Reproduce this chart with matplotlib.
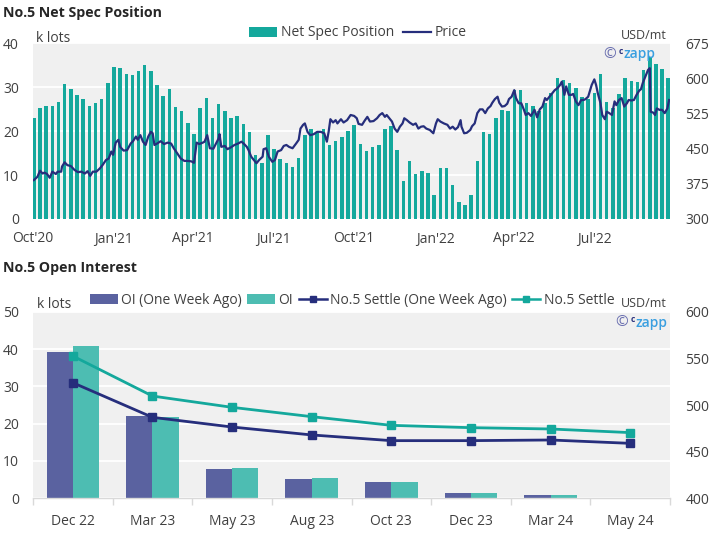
import matplotlib
matplotlib.use("Agg")
import matplotlib.pyplot as plt
import matplotlib.dates as mdates
from matplotlib.lines import Line2D
from matplotlib.patches import Patch
import numpy as np
import pandas as pd

plt.rcParams['font.family'] = ['Open Sans', 'DejaVu Sans']

# ---------------- DATA ----------------
# Net spec position (k lots), weekly
spec_start = "2020-10-02"
net_spec = [22.9, 25.2, 25.7, 25.7, 26.6, 30.7, 29.7, 28.2, 27.4, 25.7,
            26.3, 27.4, 31.0, 34.5, 34.4, 33.1, 32.7, 33.8, 35.1, 33.7,
            30.4, 28.1, 29.5, 25.6, 24.5, 21.9, 19.3, 25.3, 27.6, 23.1,
            26.1, 24.6, 22.9, 23.5, 21.7, 19.7, 14.6, 12.8, 19.1, 16.0,
            13.6, 12.7, 11.8, 13.8, 19.1, 20.5, 19.6, 20.4, 16.9, 17.8,
            18.7, 20.0, 21.4, 17.1, 15.5, 16.5, 16.9, 20.4, 21.2, 15.7,
            8.6, 13.1, 10.2, 10.9, 10.5, 5.5, 11.5, 11.5, 7.7, 3.9,
            3.2, 5.4, 13.1, 19.7, 19.3, 22.9, 24.8, 24.6, 29.3, 29.3,
            26.3, 25.8, 24.6, 26.4, 28.7, 32.1, 31.6, 30.9, 29.8, 27.7,
            27.4, 28.6, 33.0, 26.6, 25.2, 28.4, 32.2, 31.5, 31.3, 33.9,
            36.9, 35.3, 34.1, 32.0]

price_dates = [
    "2020-10-02", "2020-10-06", "2020-10-09", "2020-10-12", "2020-10-14", "2020-10-17",
    "2020-10-20", "2020-10-23", "2020-10-27", "2020-10-29", "2020-11-02", "2020-11-03",
    "2020-11-06", "2020-11-09", "2020-11-13", "2020-11-17", "2020-11-21", "2020-11-25",
    "2020-11-29", "2020-12-02", "2020-12-05", "2020-12-08", "2020-12-12", "2020-12-16",
    "2020-12-19", "2020-12-23", "2020-12-26", "2020-12-29", "2020-12-31", "2021-01-03",
    "2021-01-06", "2021-01-08", "2021-01-12", "2021-01-16", "2021-01-20", "2021-01-23",
    "2021-01-26", "2021-01-28", "2021-01-31", "2021-02-03", "2021-02-06", "2021-02-09",
    "2021-02-12", "2021-02-14", "2021-02-16", "2021-02-19", "2021-02-23", "2021-02-27",
    "2021-03-03", "2021-03-07", "2021-03-10", "2021-03-14", "2021-03-18", "2021-03-22",
    "2021-03-26", "2021-03-30", "2021-04-02", "2021-04-05", "2021-04-08", "2021-04-12",
    "2021-04-14", "2021-04-17", "2021-04-20", "2021-04-24", "2021-04-27", "2021-04-30",
    "2021-05-01", "2021-05-03", "2021-05-07", "2021-05-10", "2021-05-14", "2021-05-18",
    "2021-05-22", "2021-05-26", "2021-05-29", "2021-06-01", "2021-06-03", "2021-06-06",
    "2021-06-09", "2021-06-12", "2021-06-15", "2021-06-19", "2021-06-20", "2021-06-23",
    "2021-06-26", "2021-06-30", "2021-07-03", "2021-07-06", "2021-07-10", "2021-07-13",
    "2021-07-16", "2021-07-19", "2021-07-23", "2021-07-27", "2021-07-30", "2021-08-01",
    "2021-08-04", "2021-08-06", "2021-08-09", "2021-08-12", "2021-08-16", "2021-08-20",
    "2021-08-24", "2021-08-28", "2021-08-31", "2021-09-02", "2021-09-04", "2021-09-07",
    "2021-09-10", "2021-09-12", "2021-09-16", "2021-09-19", "2021-09-23", "2021-09-27",
    "2021-10-01", "2021-10-04", "2021-10-06", "2021-10-10", "2021-10-13", "2021-10-16",
    "2021-10-19", "2021-10-23", "2021-10-27", "2021-10-30", "2021-11-02", "2021-11-05",
    "2021-11-07", "2021-11-10", "2021-11-13", "2021-11-16", "2021-11-19", "2021-11-22",
    "2021-11-25", "2021-11-27", "2021-11-30", "2021-12-03", "2021-12-07", "2021-12-10",
    "2021-12-13", "2021-12-16", "2021-12-19", "2021-12-22", "2021-12-26", "2021-12-30",
    "2022-01-02", "2022-01-04", "2022-01-07", "2022-01-11", "2022-01-15", "2022-01-18",
    "2022-01-21", "2022-01-24", "2022-01-27", "2022-01-30", "2022-01-31", "2022-02-03",
    "2022-02-06", "2022-02-10", "2022-02-12", "2022-02-15", "2022-02-18", "2022-02-21",
    "2022-02-24", "2022-02-27", "2022-03-02", "2022-03-05", "2022-03-07", "2022-03-10",
    "2022-03-13", "2022-03-15", "2022-03-18", "2022-03-21", "2022-03-24", "2022-03-26",
    "2022-03-29", "2022-04-01", "2022-04-03", "2022-04-06", "2022-04-09", "2022-04-12",
    "2022-04-14", "2022-04-17", "2022-04-20", "2022-04-24", "2022-04-27", "2022-04-30",
    "2022-05-03", "2022-05-06", "2022-05-08", "2022-05-11", "2022-05-14", "2022-05-17",
    "2022-05-20", "2022-05-23", "2022-05-25", "2022-05-28", "2022-05-30", "2022-06-02",
    "2022-06-05", "2022-06-07", "2022-06-10", "2022-06-13", "2022-06-16", "2022-06-19",
    "2022-06-21", "2022-06-24", "2022-06-28", "2022-07-01", "2022-07-03", "2022-07-05",
    "2022-07-08", "2022-07-10", "2022-07-13", "2022-07-15", "2022-07-18", "2022-07-21",
    "2022-07-24", "2022-07-26", "2022-07-29", "2022-08-01", "2022-08-04", "2022-08-07",
    "2022-08-09", "2022-08-12", "2022-08-15", "2022-08-18", "2022-08-21", "2022-08-23",
    "2022-08-25", "2022-08-28", "2022-08-31", "2022-09-02", "2022-09-03", "2022-09-06",
    "2022-09-08", "2022-09-10", "2022-09-13", "2022-09-16", "2022-09-19", "2022-09-22",
    "2022-09-24"]
price = [
    383, 390, 403, 397, 399, 396, 388, 401, 396, 401, 401, 412,
    421, 415, 413, 405, 400, 401, 397, 402, 392, 401, 401, 408,
    415, 426, 429, 444, 437, 463, 469, 454, 446, 447, 461, 467,
    476, 469, 479, 465, 458, 476, 486, 483, 458, 461, 466, 460,
    463, 461, 451, 440, 429, 424, 424, 423, 420, 463, 460, 463,
    465, 479, 451, 450, 461, 472, 481, 454, 456, 449, 453, 458,
    461, 465, 460, 454, 447, 433, 426, 419, 426, 433, 449, 451,
    433, 422, 426, 444, 447, 456, 458, 454, 451, 461, 469, 493,
    501, 504, 486, 479, 481, 486, 486, 483, 465, 486, 513, 506,
    511, 504, 513, 506, 511, 522, 520, 515, 503, 501, 510, 518,
    508, 509, 515, 522, 526, 518, 522, 515, 508, 493, 486, 497,
    504, 515, 511, 506, 501, 504, 493, 497, 498, 493, 490, 483,
    504, 513, 508, 504, 501, 493, 497, 491, 496, 511, 497, 483,
    484, 490, 498, 504, 526, 534, 534, 526, 536, 541, 548, 556,
    561, 548, 540, 541, 546, 556, 561, 575, 558, 547, 547, 533,
    522, 526, 520, 533, 517, 534, 540, 558, 554, 561, 568, 575,
    579, 586, 593, 565, 583, 565, 565, 567, 551, 543, 554, 554,
    556, 561, 586, 598, 586, 568, 547, 522, 513, 529, 526, 522,
    551, 543, 554, 558, 540, 547, 554, 553, 554, 565, 574, 577,
    590, 604, 618, 622, 529, 527, 522, 536, 533, 533, 526, 536,
    554]

# Open interest chart
contracts = ["Dec 22", "Mar 23", "May 23", "Aug 23", "Oct 23", "Dec 23", "Mar 24", "May 24"]
oi_week_ago = [39.3, 22.05, 7.8, 5.3, 4.4, 1.3, 0.9, 0.0]
oi_now = [40.9, 21.9, 8.1, 5.4, 4.4, 1.4, 1.0, 0.0]
settle_week_ago = [523.9, 486.8, 476.4, 467.9, 461.8, 461.8, 462.5, 458.9]
settle_now = [552.5, 509.6, 497.5, 487.5, 478.2, 475.7, 474.3, 470.4]

# ---------------- STYLE ----------------
W, H = 715, 534
BG = "#f0f0f0"
TEAL = "#14a89c"
TEAL_LIGHT = "#4dbdb2"
NAVY = "#262e7c"
PURPLE = "#5a62a0"
TXT = "#404040"
FS = 10

fig = plt.figure(figsize=(W / 100, H / 100), dpi=100)


def fx(px):
    return px / W


def fy(py):
    return 1 - py / H


def axes_box(x0, y0, x1, y1):
    return [fx(x0), fy(y1), fx(x1) - fx(x0), fy(y0) - fy(y1)]


def style_axes(ax):
    ax.set_facecolor(BG)
    for s in ax.spines.values():
        s.set_visible(False)
    ax.tick_params(axis='both', length=0, labelsize=FS, labelcolor=TXT)


def watermark(x_right, y):
    fig.text(fx(x_right - 39), fy(y), "\u00a9", fontsize=11, color="#6a6fb0",
             va='center', ha='right')
    fig.text(fx(x_right - 36.5), fy(y - 3), "c", fontsize=6, color=NAVY,
             va='center', ha='left', fontweight='bold')
    fig.text(fx(x_right - 31), fy(y), "zapp", fontsize=10, color="#3a9fe0",
             va='center', ha='left', fontweight='semibold')


# ---------------- TOP CHART ----------------
ax1 = fig.add_axes(axes_box(33, 43.3, 670, 219))
style_axes(ax1)
spec_dates = pd.date_range(spec_start, periods=len(net_spec), freq="7D")
ax1.bar(spec_dates, net_spec, width=4.0, color=TEAL, zorder=2)
ax1.set_ylim(0, 40)
ax1.set_yticks([0, 10, 20, 30, 40])
ax1.grid(axis='y', color='white', linewidth=1.3, zorder=0)
ax1.set_axisbelow(True)
ax1.set_xlim(pd.Timestamp("2020-10-01"), pd.Timestamp("2022-09-25"))
ax1.xaxis.set_major_locator(mdates.MonthLocator(bymonth=[1, 4, 7, 10]))
ax1.xaxis.set_major_formatter(mdates.DateFormatter("%b'%y"))
ax1.tick_params(axis='x', pad=9)
ax1.tick_params(axis='y', pad=10)

ax2 = ax1.twinx()
ax2.patch.set_visible(False)
for s in ax2.spines.values():
    s.set_visible(False)
ax2.tick_params(axis='both', length=0, labelsize=FS, labelcolor=TXT, pad=11)
ax2.plot(pd.to_datetime(price_dates), price, color=NAVY, linewidth=1.6, zorder=3)
ax2.set_ylim(300, 675)
ax2.set_yticks(np.arange(300, 676, 75))

fig.text(fx(3), fy(13), "No.5 Net Spec Position", fontsize=10.2, fontweight='bold',
         color="#262626", va='center', ha='left')
fig.text(fx(36), fy(38), "k lots", fontsize=FS, color=TXT, va='center', ha='left')
fig.text(fx(667), fy(35.5), "USD/mt", fontsize=9, color=TXT, va='center', ha='right')

h_top = [Patch(facecolor=TEAL, edgecolor='none'),
         Line2D([], [], color=NAVY, linewidth=1.6)]
fig.legend(h_top, ["Net Spec Position", "Price"], loc='center',
           bbox_to_anchor=(fx(358), fy(33)), ncol=2, frameon=False,
           fontsize=FS, handlelength=2.0, handletextpad=0.25, columnspacing=0.7,
           labelcolor=TXT, borderaxespad=0, borderpad=0)

watermark(655, 54)

# ---------------- BOTTOM CHART ----------------
ax3 = fig.add_axes(axes_box(33, 311.7, 670, 498.3))
style_axes(ax3)
x = np.arange(len(contracts))
bw = 0.33
ax3.bar(x - bw / 2, oi_week_ago, width=bw, color=PURPLE, zorder=2)
ax3.bar(x + bw / 2, oi_now, width=bw, color=TEAL_LIGHT, zorder=2)
ax3.set_ylim(0, 50)
ax3.set_yticks([0, 10, 20, 30, 40, 50])
ax3.grid(axis='y', color='white', linewidth=1.3, zorder=0)
ax3.set_axisbelow(True)
ax3.set_xlim(-0.5, len(contracts) - 0.5)
ax3.set_xticks(x)
ax3.set_xticklabels(contracts)
ax3.set_xticks(np.arange(-0.5, len(contracts)), minor=True)
ax3.tick_params(axis='x', which='minor', length=5, color="#d9d9d9", width=1)
ax3.tick_params(axis='x', which='major', pad=11)
ax3.tick_params(axis='y', pad=10)
ax3.spines['bottom'].set_visible(True)
ax3.spines['bottom'].set_color("#d9d9d9")
ax3.spines['bottom'].set_linewidth(1)

ax4 = ax3.twinx()
ax4.patch.set_visible(False)
for s in ax4.spines.values():
    s.set_visible(False)
ax4.tick_params(axis='both', length=0, labelsize=FS, labelcolor=TXT, pad=11)
ax4.plot(x, settle_week_ago, color=NAVY, linewidth=2.0, marker='s', markersize=5.5, zorder=3)
ax4.plot(x, settle_now, color=TEAL, linewidth=2.0, marker='s', markersize=5.5, zorder=3)
ax4.set_ylim(400, 600)
ax4.set_yticks(np.arange(400, 601, 50))

fig.text(fx(3), fy(268), "No.5 Open Interest", fontsize=10.2, fontweight='bold',
         color="#262626", va='center', ha='left')
fig.text(fx(37), fy(305), "k lots", fontsize=FS, color=TXT, va='center', ha='left')
fig.text(fx(667), fy(303.5), "USD/mt", fontsize=9, color=TXT, va='center', ha='right')

h_bot = [Patch(facecolor=PURPLE, edgecolor='none'),
         Patch(facecolor=TEAL_LIGHT, edgecolor='none'),
         Line2D([], [], color=NAVY, linewidth=1.8, marker='s', markersize=4.5),
         Line2D([], [], color=TEAL, linewidth=1.8, marker='s', markersize=4.5)]
fig.legend(h_bot, ["OI (One Week Ago)", "OI", "No.5 Settle (One Week Ago)", "No.5 Settle"],
           loc='center', bbox_to_anchor=(fx(352), fy(300)), ncol=4, frameon=False,
           fontsize=FS, handlelength=2.0, handletextpad=0.25, columnspacing=0.4,
           labelcolor=TXT, borderaxespad=0, borderpad=0)

watermark(667, 323)

fig.savefig("out.png", dpi=100)
